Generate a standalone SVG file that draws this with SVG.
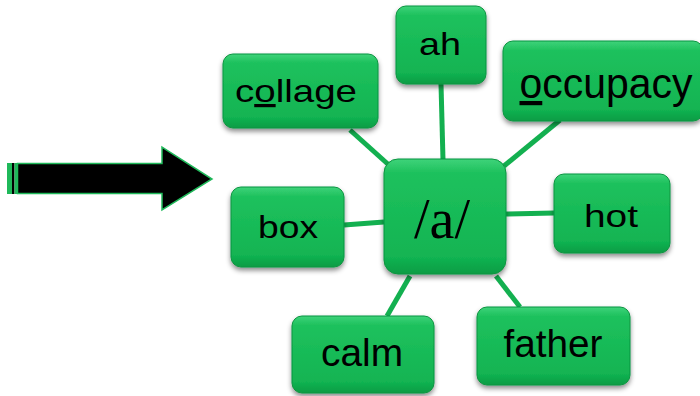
<svg xmlns="http://www.w3.org/2000/svg" width="700" height="396" viewBox="0 0 700 396">
<defs>
<linearGradient id="g" x1="0" y1="0" x2="0" y2="1">
<stop offset="0" stop-color="#3fd37a"/>
<stop offset="0.12" stop-color="#1ec15d"/>
<stop offset="0.85" stop-color="#12b452"/>
<stop offset="1" stop-color="#0c9c44"/>
</linearGradient>
<filter id="sh" x="-20%" y="-20%" width="140%" height="150%">
<feDropShadow dx="0" dy="3" stdDeviation="2.5" flood-color="#000" flood-opacity="0.45"/>
</filter>
<style>
.n{fill:url(#g);stroke:#0a9440;stroke-width:1;filter:url(#sh)}
.c{stroke:#13b050;stroke-width:5;fill:none}
.t{font-family:"Liberation Sans",Arial,sans-serif;fill:#000;text-anchor:middle}
.s{font-family:"Liberation Serif","Times New Roman",serif;fill:#000;text-anchor:middle}
.u{text-decoration:underline}
</style>
</defs>
<g id="connectors">
<line class="c" x1="350" y1="130" x2="390" y2="166"/>
<line class="c" x1="441" y1="84" x2="443" y2="160"/>
<line class="c" x1="560" y1="120" x2="504" y2="166"/>
<line class="c" x1="344" y1="225" x2="384" y2="222"/>
<line class="c" x1="506" y1="214" x2="554" y2="213"/>
<line class="c" x1="387" y1="316" x2="410" y2="276"/>
<line class="c" x1="496" y1="276" x2="520" y2="307"/>
</g>
<g id="arrow">
<rect x="7" y="163" width="5" height="31" fill="#1fb95a"/>
<rect x="12" y="163" width="2.5" height="31" fill="#000"/>
<rect x="14.5" y="163" width="3" height="31" fill="#1fb95a"/>
<polygon points="17.5,163.5 162,163.5 162,147 212,179 162,210 162,193.5 17.5,193.5" fill="#000" stroke="#1fb95a" stroke-width="1.5"/>
</g>
<g id="node-center">
<rect class="n" x="384" y="159" width="122" height="115" rx="14"/>
<text class="s" x="442" y="238" font-size="56">/a/</text>
</g>
<g id="node-ah">
<rect class="n" x="396" y="6" width="90" height="78" rx="10"/>
<text class="t" x="440" y="55" font-size="32" textLength="42" lengthAdjust="spacingAndGlyphs">ah</text>
</g>
<g id="node-collage">
<rect class="n" x="223" y="54" width="155" height="74" rx="10"/>
<text class="t" x="296" y="102" font-size="32" textLength="122" lengthAdjust="spacingAndGlyphs">c<tspan class="u">o</tspan>llage</text>
</g>
<g id="node-occupacy">
<rect class="n" x="503" y="41" width="200" height="80" rx="10"/>
<text class="t" x="606" y="98" font-size="42" textLength="173" lengthAdjust="spacingAndGlyphs"><tspan class="u">o</tspan>ccupacy</text>
</g>
<g id="node-box">
<rect class="n" x="231" y="187" width="113" height="80" rx="10"/>
<text class="t" x="288" y="238" font-size="32" textLength="60" lengthAdjust="spacingAndGlyphs">box</text>
</g>
<g id="node-hot">
<rect class="n" x="554" y="174" width="116" height="79" rx="10"/>
<text class="t" x="611" y="227" font-size="32" textLength="54" lengthAdjust="spacingAndGlyphs">hot</text>
</g>
<g id="node-calm">
<rect class="n" x="292" y="316" width="142" height="77" rx="10"/>
<text class="t" x="362" y="366" font-size="38" textLength="82" lengthAdjust="spacingAndGlyphs">calm</text>
</g>
<g id="node-father">
<rect class="n" x="477" y="307" width="153" height="78" rx="10"/>
<text class="t" x="553" y="357" font-size="38" textLength="99" lengthAdjust="spacingAndGlyphs">father</text>
</g>
</svg>
